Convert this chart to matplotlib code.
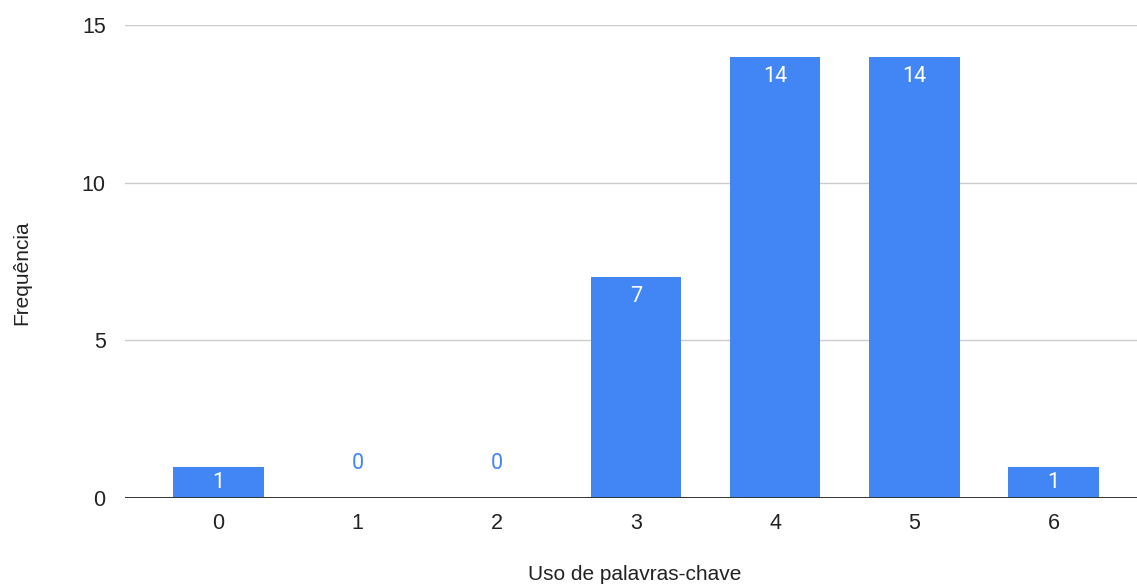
import matplotlib.pyplot as plt

plt.rcParams['font.family'] = ['Liberation Sans', 'DejaVu Sans']

# Data
categorias = [0, 1, 2, 3, 4, 5, 6]
frequencia = [1, 0, 0, 7, 14, 14, 1]

cor = '#4285F4'

fig = plt.figure(figsize=(11.37, 5.86), dpi=100)
ax = fig.add_axes([0.110, 0.150, 0.890, 0.807])

ax.bar(categorias, frequencia, width=0.65, color=cor, zorder=3)

# Value labels: white inside the bar, blue above the baseline for zeros
for x, v in zip(categorias, frequencia):
    if v > 0:
        ax.text(x, v - min(0.62, v / 2), str(v), ha='center', va='center',
                color='white', fontsize=15.5, family='Roboto', zorder=4)
    else:
        ax.text(x, 1.11, str(v), ha='center', va='center', color=cor,
                fontsize=15.5, family='Roboto', zorder=4)

ax.set_xlim(-0.67, 6.6)
ax.set_ylim(0, 15)
ax.set_yticks([0, 5, 10, 15])
ax.set_xticks(categorias)
ax.grid(axis='y', color='#cccccc', linewidth=1, zorder=0)
ax.axhline(0, color='#333333', linewidth=1.4, zorder=5)

for s in ax.spines.values():
    s.set_visible(False)
ax.tick_params(length=0, labelsize=15.5, colors='#222222')
ax.tick_params(axis='x', pad=11)
ax.tick_params(axis='y', pad=14)

fig.text(635 / 1137, 1 - 574 / 586, 'Uso de palavras-chave', ha='center',
         va='center', fontsize=15, color='#222222')
fig.text(22 / 1137, 1 - 273 / 586, 'Frequência', ha='center', va='center',
         rotation=90, fontsize=15, color='#222222')

fig.savefig('out.png', dpi=100)
